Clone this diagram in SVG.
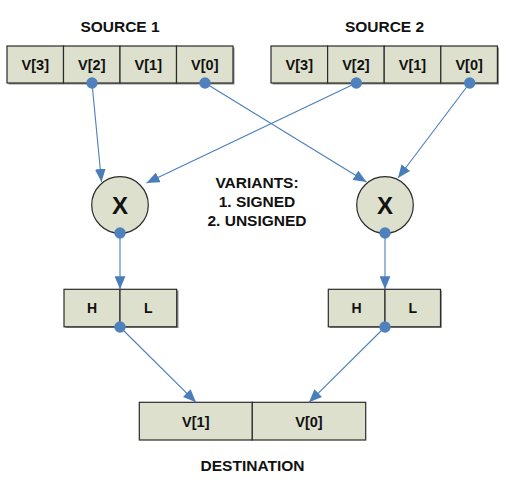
<svg xmlns="http://www.w3.org/2000/svg" width="506" height="489" viewBox="0 0 506 489">
<defs>
<marker id="arr" viewBox="0 0 12 10" refX="12" refY="5" markerWidth="13" markerHeight="11" markerUnits="userSpaceOnUse" orient="auto">
<path d="M0,0 L12,5 L0,10 Z" fill="#4a7ebb"/>
</marker>
</defs>
<style>
.cell{fill:#dde0cc;stroke:#2b2b2b;stroke-width:1.2}
.sh{fill:#8c8c8c}
.t{font-family:"Liberation Sans",Arial,sans-serif;font-weight:bold;fill:#111;text-anchor:middle}
.c{fill:#4f81bd}
.ln{stroke:#4a7ebb;stroke-width:1.1;fill:none;marker-end:url(#arr)}
</style>
<rect width="506" height="489" fill="#fff"/>
<text class="t" x="120" y="31.5" font-size="15.5">SOURCE 1</text>
<text class="t" x="384.5" y="31.5" font-size="15.5">SOURCE 2</text>
<text class="t" x="257" y="188" font-size="15.5">VARIANTS:</text>
<text class="t" x="257" y="207" font-size="15.5">1. SIGNED</text>
<text class="t" x="257" y="226" font-size="15.5">2. UNSIGNED</text>
<text class="t" x="252.5" y="471" font-size="15.5">DESTINATION</text>

<g id="source1">
<rect class="sh" x="8.5" y="47.5" width="226" height="37"/>
<rect class="cell" x="7" y="46" width="56.5" height="37"/>
<rect class="cell" x="63.5" y="46" width="56.5" height="37"/>
<rect class="cell" x="120" y="46" width="56.5" height="37"/>
<rect class="cell" x="176.5" y="46" width="56.5" height="37"/>
<text class="t" x="35.3" y="70" font-size="14.5">V[3]</text>
<text class="t" x="91.8" y="70" font-size="14.5">V[2]</text>
<text class="t" x="148.3" y="70" font-size="14.5">V[1]</text>
<text class="t" x="204.8" y="70" font-size="14.5">V[0]</text>
</g>
<g id="source2">
<rect class="sh" x="272.5" y="47.5" width="226.5" height="37"/>
<rect class="cell" x="271" y="46" width="56.6" height="37"/>
<rect class="cell" x="327.6" y="46" width="56.6" height="37"/>
<rect class="cell" x="384.2" y="46" width="56.6" height="37"/>
<rect class="cell" x="440.8" y="46" width="56.6" height="37"/>
<text class="t" x="299.3" y="70" font-size="14.5">V[3]</text>
<text class="t" x="355.9" y="70" font-size="14.5">V[2]</text>
<text class="t" x="412.5" y="70" font-size="14.5">V[1]</text>
<text class="t" x="469.1" y="70" font-size="14.5">V[0]</text>
</g>
<g id="mul1">
<circle cx="120" cy="205" r="28.3" fill="#dde0cc" stroke="#2b2b2b" stroke-width="1.2"/>
<text class="t" x="120" y="213.5" font-size="24">X</text>
</g>
<g id="mul2">
<circle cx="385" cy="205" r="28.3" fill="#dde0cc" stroke="#2b2b2b" stroke-width="1.2"/>
<text class="t" x="385" y="213.5" font-size="24">X</text>
</g>
<g id="hl1">
<rect class="sh" x="65.5" y="290.5" width="113" height="37.5"/>
<rect class="cell" x="64" y="289.3" width="56" height="37.5"/>
<rect class="cell" x="120" y="289.3" width="56.7" height="37.5"/>
<text class="t" x="92" y="313.3" font-size="14">H</text>
<text class="t" x="148.3" y="313.3" font-size="14">L</text>
</g>
<g id="hl2">
<rect class="sh" x="329.8" y="290.5" width="112" height="37.5"/>
<rect class="cell" x="328.3" y="289.3" width="56.7" height="37.5"/>
<rect class="cell" x="385" y="289.3" width="55.5" height="37.5"/>
<text class="t" x="356.6" y="313.3" font-size="14">H</text>
<text class="t" x="412.7" y="313.3" font-size="14">L</text>
</g>
<g id="destination">
<rect class="cell" x="139.3" y="402.3" width="113" height="37.7"/>
<rect class="cell" x="252.3" y="402.3" width="113.4" height="37.7"/>
<text class="t" x="195.8" y="427.3" font-size="14.5">V[1]</text>
<text class="t" x="309" y="427.3" font-size="14.5">V[0]</text>
</g>

<g id="connectors">
<line class="ln" x1="92" y1="83" x2="101.5" y2="182"/>
<line class="ln" x1="356.3" y1="83" x2="146.5" y2="183"/>
<line class="ln" x1="205" y1="83" x2="366.5" y2="182"/>
<line class="ln" x1="469.7" y1="83" x2="398" y2="178"/>
<line class="ln" x1="120" y1="233" x2="120" y2="289.3"/>
<line class="ln" x1="385" y1="233" x2="385" y2="289.3"/>
<line class="ln" x1="120" y1="327" x2="196" y2="402.3"/>
<line class="ln" x1="385" y1="327" x2="309" y2="402.3"/>
<circle class="c" cx="92" cy="83" r="5.7"/>
<circle class="c" cx="205" cy="83" r="5.7"/>
<circle class="c" cx="356.3" cy="83" r="5.7"/>
<circle class="c" cx="469.7" cy="83" r="5.7"/>
<circle class="c" cx="120" cy="233" r="5.7"/>
<circle class="c" cx="385" cy="233" r="5.7"/>
<circle class="c" cx="120" cy="327" r="5.7"/>
<circle class="c" cx="385" cy="327" r="5.7"/>
</g>
</svg>
